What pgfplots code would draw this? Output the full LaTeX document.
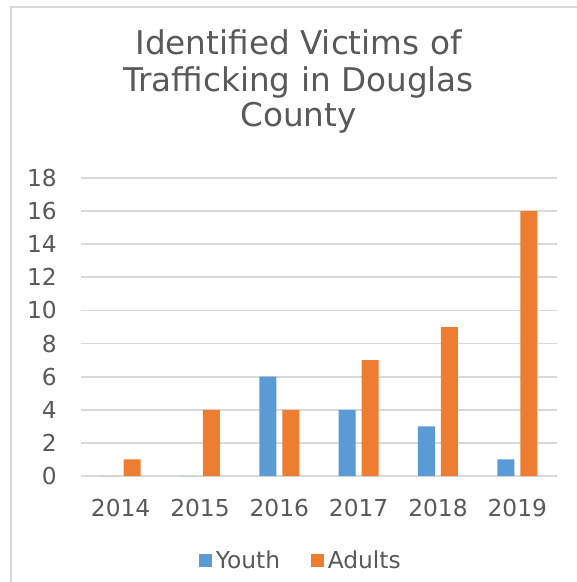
\documentclass[border=0pt]{standalone}
\usepackage{pgfplots}
\pgfplotsset{compat=1.18}
\usepackage{fontspec}
\setmainfont{DejaVu Sans}
\definecolor{cblue}{HTML}{5B9BD5}
\definecolor{corange}{HTML}{ED7D31}
\definecolor{cgrid}{HTML}{D9D9D9}
\definecolor{ctext}{HTML}{595959}
\begin{document}
\begin{tikzpicture}
\useasboundingbox (0,0) rectangle (432.75pt,436.5pt);
\draw[cgrid, line width=1.5pt] ({10.5*0.75pt},0) -- ({10.5*0.75pt},{(582-7.5)*0.75pt}) -- (432.75pt,{(582-7.5)*0.75pt});
\node[anchor=base, text=ctext, font=\fontsize{24.5}{27}\selectfont, inner sep=0pt] at ({298.5*0.75pt},{(582-55)*0.75pt}) {Identified Victims of};
\node[anchor=base, text=ctext, font=\fontsize{24.5}{27}\selectfont, inner sep=0pt] at ({298.5*0.75pt},{(582-91.5)*0.75pt}) {Trafficking in Douglas};
\node[anchor=base, text=ctext, font=\fontsize{24.5}{27}\selectfont, inner sep=0pt] at ({298.5*0.75pt},{(582-127)*0.75pt}) {County};
\begin{axis}[
  at={({81*0.75pt},{(582-476)*0.75pt})}, anchor=south west,
  scale only axis, width=357pt, height=223.5pt,
  ybar=4.5pt, bar width=12.75pt,
  xmin=-0.5, xmax=5.5, ymin=0, ymax=18,
  ytick={0,2,...,18},
  xtick={0,1,2,3,4,5},
  xticklabels={2014,2015,2016,2017,2018,2019},
  major tick length=0pt,
  axis line style={draw=none},
  ymajorgrids, grid style={cgrid, line width=1.3pt},
  tick label style={text=ctext, font=\fontsize{17.5}{20}\selectfont},
  yticklabel style={anchor=east, inner sep=0pt, xshift=-18pt},
  xticklabel style={anchor=north, inner sep=0pt, yshift=-17pt},
  /pgf/number format/assume math mode=true,
  legend columns=2,
  legend style={at={(0.464,-0.285)}, anchor=center, draw=none, fill=none,
    font=\fontsize{17.5}{20}\selectfont, text=ctext,
    /tikz/every even column/.append style={column sep=20pt},
    nodes={inner sep=3pt}},
  legend image code/.code={\fill[#1] (0pt,-4.9pt) rectangle (9.75pt,4.9pt);},
]
\addplot[fill=cblue, draw=none] coordinates {(0,0) (1,0) (2,6) (3,4) (4,3) (5,1)};
\addplot[fill=corange, draw=none] coordinates {(0,1) (1,4) (2,4) (3,7) (4,9) (5,16)};
\legend{Youth,Adults}
\end{axis}
\end{tikzpicture}
\end{document}
